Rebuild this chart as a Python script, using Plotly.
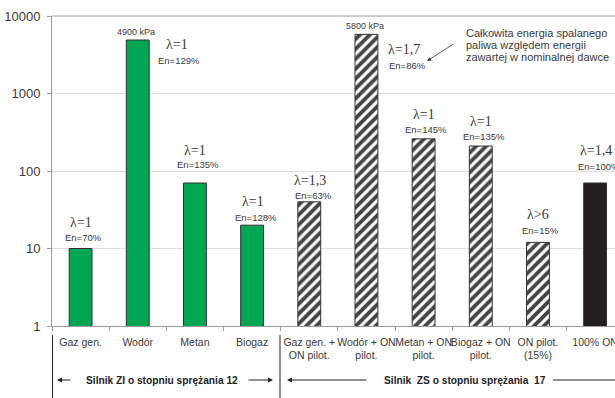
import math
import plotly.graph_objects as go

# Fuel variants on the x axis
categories = [
    "Gaz gen.", "Wodór", "Metan", "Biogaz",
    "Gaz gen. +<br>ON pilot.", "Wodór + ON<br>pilot.", "Metan + ON<br>pilot.",
    "Biogaz + ON<br>pilot.", "ON pilot.<br>(15%)", "100% ON",
]
# Bar values (log scale); hydrogen bars read in kPa
values = [10, 4900, 70, 20, 40, 5800, 260, 210, 12, 70]
lambda_labels = ["λ=1", "λ=1", "λ=1", "λ=1", "λ=1,3", "λ=1,7", "λ=1", "λ=1", "λ>6", "λ=1,4"]
energy_labels = ["En=70%", "En=129%", "En=135%", "En=128%", "En=63%", "En=86%",
                 "En=145%", "En=135%", "En=15%", "En=100%"]
value_notes = {1: "4900 kPa", 5: "5800 kPa"}
group_labels = ["Silnik ZI o stopniu sprężania 12", "Silnik  ZS o stopniu sprężania  17"]
note_lines = ["Całkowita energia spalanego", "paliwa względem energii",
              "zawartej w nominalnej dawce"]
y_ticks = [1, 10, 100, 1000, 10000]

GREEN = "#00A651"
DARK = "#231F20"
TXT = "#3a3a3a"
SANS = "Liberation Sans, Arial, sans-serif"
SERIF = "Liberation Serif, Times New Roman, serif"

kinds = ["g"] * 4 + ["h"] * 5 + ["k"]
colors = [GREEN if k == "g" else ("white" if k == "h" else DARK) for k in kinds]
shapes_pat = ["/" if k == "h" else "" for k in kinds]

W, H = 615, 398
L, T, B = 52, 16, 72
PW, PH = W - L, H - T - B
STEP = 57.17
X_MAX = -0.5 + PW / STEP


def px(xp):
    return (xp - L) / PW


def py(yp):
    return (T + PH - yp) / PH


fig = go.Figure()
fig.add_trace(go.Bar(
    x=categories, y=values,
    marker=dict(color=colors, line=dict(color="#333333", width=1),
                pattern=dict(shape=shapes_pat, fgcolor="black", fgopacity=1,
                             size=7, solidity=0.55)),
    width=0.4, showlegend=False, hoverinfo="skip",
))

annotations = []
# λ and En labels: (x offset in categories, y pixel of λ, y pixel of En)
label_pos = [
    (0.0, 222, 237), (0.68, 45, 60), (0.0, 150, 165), (0.02, 201, 217),
    (0.02, 180, 195), (0.66, 50, 65), (0.0, 114, 129), (0.0, 121, 136),
    (0.0, 214, 230), (0.02, 151, 166),
]
for i, (dx, ly, ey) in enumerate(label_pos):
    annotations.append(dict(x=i + dx, y=py(ly), xref="x", yref="paper", text=lambda_labels[i],
                            xanchor="center", yanchor="middle", showarrow=False,
                            font=dict(family=SERIF, size=14, color=TXT)))
    annotations.append(dict(x=i + dx + 0.05, y=py(ey), xref="x", yref="paper", text=energy_labels[i],
                            xanchor="center", yanchor="middle", showarrow=False,
                            font=dict(family=SANS, size=9.5, color=TXT)))
for i, t in value_notes.items():
    annotations.append(dict(x=i - 0.03, y=math.log10(values[i]), xref="x", yref="y", text=t,
                            xanchor="center", yanchor="bottom", showarrow=False, yshift=1,
                            font=dict(family=SANS, size=9, color=TXT)))

for k, line in enumerate(note_lines):
    annotations.append(dict(x=px(464), y=py(33 + 12 * k), xref="paper", yref="paper", text=line,
                            xanchor="left", yanchor="middle", showarrow=False,
                            font=dict(family=SANS, size=11, color=TXT)))
annotations.append(dict(x=px(427), y=py(61), xref="paper", yref="paper", text="",
                        showarrow=True, ax=28, ay=-18, arrowhead=2, arrowsize=1,
                        arrowwidth=0.8, arrowcolor="#333333"))

# Engine group captions with arrows
GY = py(380)
annotations.append(dict(x=px(162), y=GY, xref="paper", yref="paper", text="<b>" + group_labels[0] + "</b>",
                        xanchor="center", yanchor="middle", showarrow=False,
                        font=dict(family=SANS, size=10.2, color="#222222")))
annotations.append(dict(x=px(465), y=GY, xref="paper", yref="paper", text="<b>" + group_labels[1] + "</b>",
                        xanchor="center", yanchor="middle", showarrow=False,
                        font=dict(family=SANS, size=10.2, color="#222222")))
for head, dx in [(57, 15), (273, -26), (287, 81)]:
    annotations.append(dict(x=px(head), y=GY, xref="paper", yref="paper", text="",
                            showarrow=True, ax=dx, ay=0, arrowhead=2, arrowsize=1,
                            arrowwidth=1, arrowcolor="#222222"))

shapes = [
    dict(type="line", xref="paper", yref="paper", x0=px(553), x1=px(700), y0=GY, y1=GY,
         line=dict(color="#222222", width=1)),
    dict(type="line", xref="paper", yref="paper", x0=px(52.5), x1=px(52.5), y0=py(335), y1=py(400),
         line=dict(color="#222222", width=1)),
    dict(type="line", xref="paper", yref="paper", x0=px(280), x1=px(280), y0=py(335), y1=py(400),
         line=dict(color="#222222", width=1)),
    dict(type="line", xref="paper", yref="paper", x0=0, x1=1.1, y0=1, y1=1,
         line=dict(color="#9a9a9a", width=1)),
]

fig.update_layout(
    width=W, height=H,
    margin=dict(l=L, r=0, t=T, b=B, pad=0),
    paper_bgcolor="white", plot_bgcolor="white",
    bargap=0.6,
    annotations=annotations, shapes=shapes,
    font=dict(family=SANS, color=TXT),
)
fig.update_xaxes(
    type="category", range=[-0.5, X_MAX], showgrid=False,
    showline=True, linecolor="#9a9a9a", linewidth=1,
    ticks="outside", tickson="boundaries", ticklen=4, tickcolor="#9a9a9a",
    tickangle=0, tickfont=dict(family=SANS, size=10.5, color=TXT), ticklabelstandoff=6,
    automargin=False,
)
fig.update_yaxes(
    type="log", range=[0, 4], tickvals=y_ticks, ticktext=[str(v) for v in y_ticks],
    showgrid=True, gridcolor="#dddddd", gridwidth=1,
    showline=True, linecolor="#9a9a9a", linewidth=1,
    ticks="outside", ticklen=4, tickcolor="#9a9a9a", ticklabelstandoff=4,
    tickfont=dict(family=SANS, size=13, color=TXT), automargin=False, zeroline=False,
)

fig.write_html("out.html")
